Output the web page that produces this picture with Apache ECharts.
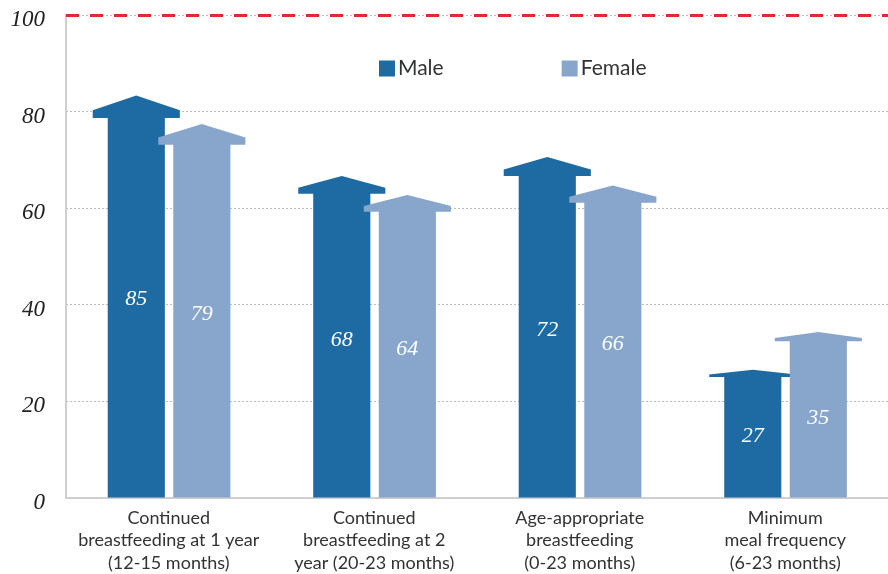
<!DOCTYPE html>
<html>
<head>
<meta charset="utf-8">
<script src="https://cdn.jsdelivr.net/npm/echarts@6/dist/echarts.min.js"></script>
<style>
html, body { margin: 0; padding: 0; background: #fff; }
#chart { width: 888px; height: 574px; }
</style>
</head>
<body>
<div id="chart"></div>
<script>
// categories and values
var categories = [
    'Continued\nbreastfeeding at 1 year\n(12-15 months)',
    'Continued\nbreastfeeding at 2\nyear (20-23 months)',
    'Age-appropriate\nbreastfeeding\n(0-23 months)',
    'Minimum\nmeal frequency\n(6-23 months)'
];
var maleValues = [85, 68, 72, 27];
var femaleValues = [79, 64, 66, 35];
var yTicks = [0, 20, 40, 60, 80, 100];

var maleColor = '#1e6ba3';
var femaleColor = '#88a6cb';

// arrow drawn as one polygon, scaled to the bar height
function arrowItem(offsetRatio) {
    return function (params, api) {
        var idx = api.value(0);
        var val = api.value(1);
        var base = api.coord([idx, 0]);
        var top = api.coord([idx, val * 0.98]);
        var band = api.size([1, 0])[0];
        var cx = base[0] + band * offsetRatio;
        var y0 = base[1];
        var H = y0 - top[1];
        var bw = band * 0.139;
        var hw = band * 0.212;
        var yHead = y0 - H * 0.9445;
        var yShoulder = y0 - H * 0.9636;
        var points = [
            [cx - bw, y0],
            [cx - bw, yHead],
            [cx - hw, yHead],
            [cx - hw, yShoulder],
            [cx, y0 - H],
            [cx + hw, yShoulder],
            [cx + hw, yHead],
            [cx + bw, yHead],
            [cx + bw, y0]
        ];
        return {
            type: 'group',
            children: [
                {
                    type: 'polygon',
                    shape: { points: points },
                    style: { fill: api.visual('color') }
                },
                {
                    type: 'text',
                    x: cx,
                    y: y0 - H / 2 + 3,
                    style: {
                        text: String(val),
                        fill: '#fff',
                        font: 'italic 22px "Liberation Serif", "DejaVu Serif", serif',
                        align: 'center',
                        verticalAlign: 'middle'
                    }
                }
            ]
        };
    };
}

var chart = echarts.init(document.getElementById('chart'));

chart.setOption({
    animation: false,
    legend: {
        data: ['Male', 'Female'],
        left: 374,
        top: 53,
        padding: 5,
        icon: 'rect',
        itemWidth: 16,
        itemHeight: 16,
        itemGap: 118,
        textStyle: {
            color: '#333',
            fontSize: 21,
            fontFamily: 'Lato',
            padding: [0, 0, 0, -2]
        }
    },
    grid: {
        left: 66,
        right: 0,
        top: 15,
        bottom: 74
    },
    xAxis: {
        type: 'category',
        data: categories,
        axisLine: { lineStyle: { color: '#cfcfcf', width: 2 } },
        axisTick: { show: false },
        axisLabel: {
            interval: 0,
            margin: 9,
            color: '#333',
            fontSize: 18,
            lineHeight: 22.5,
            fontFamily: 'Lato'
        }
    },
    yAxis: {
        type: 'value',
        min: 0,
        max: 100,
        interval: 20,
        axisLine: { show: true, lineStyle: { color: '#cfcfcf', width: 2 } },
        axisTick: { show: false },
        axisLabel: {
            margin: 21,
            verticalAlign: 'top',
            lineHeight: 10,
            color: '#222',
            fontSize: 23,
            fontStyle: 'italic',
            fontFamily: '"Liberation Serif", serif'
        },
        splitLine: {
            lineStyle: { color: '#bdbdbd', type: [2, 2], width: 1 }
        }
    },
    series: [
        {
            name: 'Male',
            type: 'custom',
            itemStyle: { color: maleColor },
            renderItem: arrowItem(-0.158),
            encode: { x: 0, y: 1 },
            data: maleValues.map(function (v, i) { return [i, v]; }),
            markLine: {
                silent: true,
                symbol: 'none',
                label: { show: false },
                lineStyle: { color: '#e8262b', type: [13, 11], width: 3 },
                data: [{ yAxis: yTicks[yTicks.length - 1] }]
            }
        },
        {
            name: 'Female',
            type: 'custom',
            itemStyle: { color: femaleColor },
            renderItem: arrowItem(0.161),
            encode: { x: 0, y: 1 },
            data: femaleValues.map(function (v, i) { return [i, v]; })
        }
    ]
});
</script>
</body>
</html>
